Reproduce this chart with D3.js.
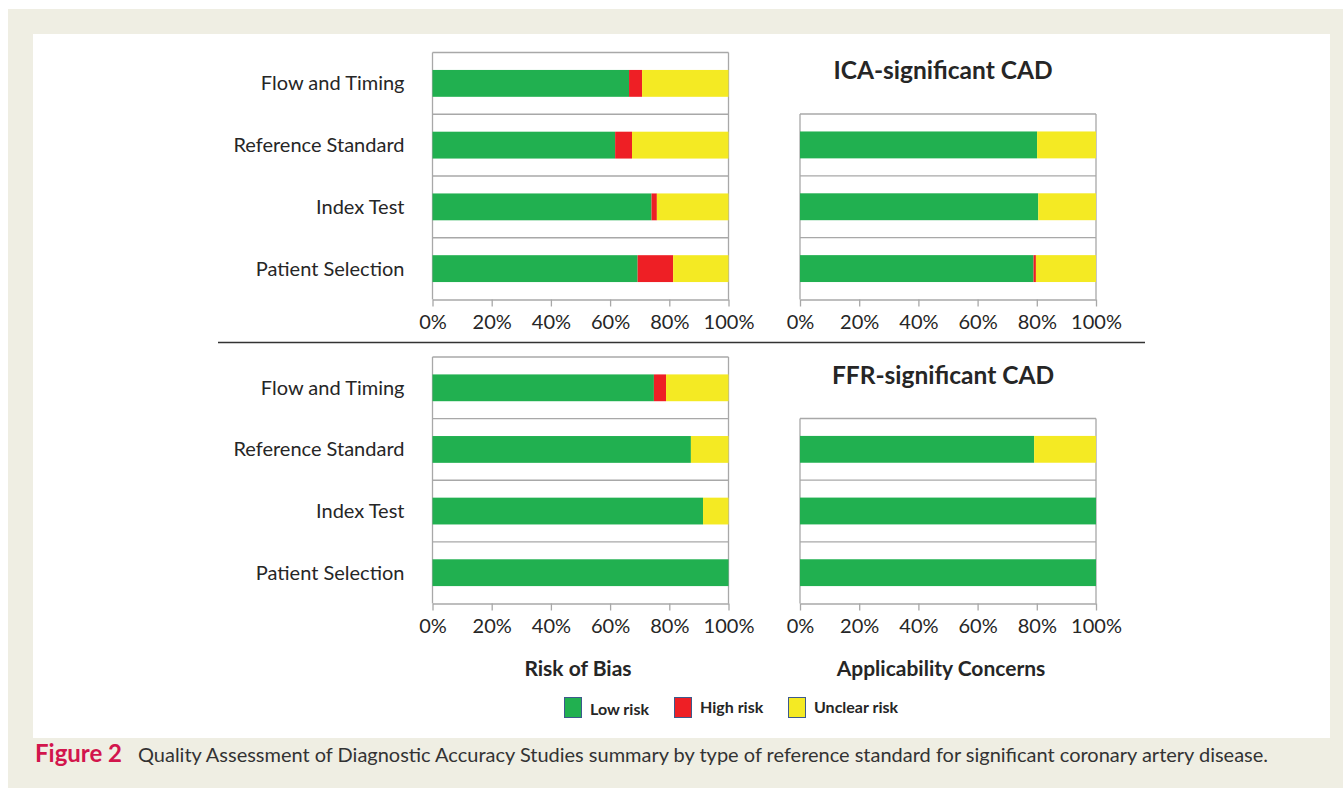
<!DOCTYPE html>
<html>
<head>
<meta charset="utf-8">
<script src="https://cdn.jsdelivr.net/npm/d3@7"></script>
<style>
  body { margin: 0; background: #fff; }
  svg { display: block; }
  text { font-family: Lato, "Open Sans", sans-serif; fill: #262626; }
</style>
</head>
<body>
<div id="root"></div>
<script>
// categories, top to bottom
var domains = ["Flow and Timing", "Reference Standard", "Index Test", "Patient Selection"];
var applicDomains = ["Reference Standard", "Index Test", "Patient Selection"];
var levels = ["low", "high", "unclear"];
var levelNames = ["Low risk", "High risk", "Unclear risk"];
var levelColors = ["#21b050", "#ee1f25", "#f4ea23"];
var ticks = [0, 0.2, 0.4, 0.6, 0.8, 1];

// percent of studies, in domain order
var icaBiasLow     = [66.4, 61.7, 74.0, 69.3];
var icaBiasHigh    = [4.4, 5.7, 1.8, 12.0];
var icaBiasUnclear = [29.2, 32.6, 24.2, 18.7];

var icaApplLow     = [80.1, 80.5, 78.9];
var icaApplHigh    = [0, 0, 0.8];
var icaApplUnclear = [19.9, 19.5, 20.3];

var ffrBiasLow     = [74.8, 87.3, 91.4, 100];
var ffrBiasHigh    = [4.1, 0, 0, 0];
var ffrBiasUnclear = [21.1, 12.7, 8.6, 0];

var ffrApplLow     = [79.1, 100, 100];
var ffrApplHigh    = [0, 0, 0];
var ffrApplUnclear = [20.9, 0, 0];

var W = 1343, H = 788;
var svg = d3.select("#root").append("svg").attr("width", W).attr("height", H);

// figure background
svg.append("rect").attr("x", 8).attr("y", 9).attr("width", W - 8).attr("height", H - 9).attr("fill", "#efeee3");
svg.append("rect").attr("x", 33).attr("y", 34).attr("width", 1297).attr("height", 704).attr("fill", "#fff");

function rows(cats, low, high, unclear) {
  return cats.map(function(c, i) {
    return { cat: c, low: low[i] / 100, high: high[i] / 100, unclear: unclear[i] / 100 };
  });
}

var stack = d3.stack().keys(levels);
var color = d3.scaleOrdinal().domain(levels).range(levelColors);

function panel(opts) {
  var g = svg.append("g");
  var x = d3.scaleLinear().domain([0, 1]).range([opts.x0, opts.x1]);
  var y = d3.scaleBand().domain(opts.cats).range([opts.y0, opts.y1])
    .paddingInner(0.565).paddingOuter(0.2825);
  var step = y.step();

  // frame and category separators
  var lines = d3.range(opts.cats.length).map(function(i) { return opts.y0 + i * step; });
  g.selectAll(".sep").data(lines).join("line")
    .attr("x1", opts.x0).attr("x2", opts.x1)
    .attr("y1", function(d) { return d; }).attr("y2", function(d) { return d; })
    .attr("stroke", "#a8a8a8").attr("stroke-width", 1.3);
  g.append("line").attr("x1", opts.x1).attr("x2", opts.x1).attr("y1", opts.y0).attr("y2", opts.y1)
    .attr("stroke", "#a8a8a8").attr("stroke-width", 1.3);
  g.append("line").attr("x1", opts.x0).attr("x2", opts.x0).attr("y1", opts.y0).attr("y2", opts.y1)
    .attr("stroke", "#a8a8a8").attr("stroke-width", 1.3);

  var series = stack(opts.data);
  g.selectAll(".s").data(series).join("g")
    .attr("fill", function(d) { return color(d.key); })
    .selectAll("rect").data(function(d) { return d; }).join("rect")
    .attr("x", function(d) { return x(d[0]); })
    .attr("width", function(d) { return Math.max(0, x(d[1]) - x(d[0])); })
    .attr("y", function(d) { return y(d.data.cat); })
    .attr("height", y.bandwidth());

  var xAxis = d3.axisBottom(x).tickValues(ticks).tickFormat(d3.format(".0%"))
    .tickSizeInner(7).tickSizeOuter(0).tickPadding(8);
  var ax = g.append("g").attr("transform", "translate(0," + opts.y1 + ")").call(xAxis);
  ax.select(".domain").attr("stroke", "#a8a8a8").attr("stroke-width", 1.3);
  ax.selectAll(".tick line").attr("stroke", "#a8a8a8").attr("stroke-width", 1.3);
  ax.selectAll(".tick text").attr("fill", "#262626")
    .style("font-family", "Lato, sans-serif").style("font-size", "20px");

  if (opts.labels) {
    g.selectAll(".lab").data(opts.cats).join("text")
      .attr("x", opts.x0 - 28)
      .attr("y", function(d) { return y(d) + y.bandwidth() / 2; })
      .attr("dy", "0.35em")
      .attr("text-anchor", "end")
      .style("font-size", "20px")
      .text(function(d) { return d; });
  }
}

var L0 = 432.5, L1 = 728.5, R0 = 800, R1 = 1096;

panel({ cats: domains, data: rows(domains, icaBiasLow, icaBiasHigh, icaBiasUnclear),
  x0: L0, x1: L1, y0: 52.5, y1: 299.5, labels: true });
panel({ cats: applicDomains, data: rows(applicDomains, icaApplLow, icaApplHigh, icaApplUnclear),
  x0: R0, x1: R1, y0: 114, y1: 299.5, labels: false });
panel({ cats: domains, data: rows(domains, ffrBiasLow, ffrBiasHigh, ffrBiasUnclear),
  x0: L0, x1: L1, y0: 357, y1: 603.5, labels: true });
panel({ cats: applicDomains, data: rows(applicDomains, ffrApplLow, ffrApplHigh, ffrApplUnclear),
  x0: R0, x1: R1, y0: 418.5, y1: 603.5, labels: false });

// divider between the two reference standards
svg.append("line").attr("x1", 218).attr("x2", 1145).attr("y1", 342.5).attr("y2", 342.5)
  .attr("stroke", "#333").attr("stroke-width", 1.5);

// panel titles
svg.append("text").attr("x", 943).attr("y", 79).attr("text-anchor", "middle")
  .style("font-size", "24.5px").style("font-weight", "bold").text("ICA-significant CAD");
svg.append("text").attr("x", 943).attr("y", 384).attr("text-anchor", "middle")
  .style("font-size", "24.5px").style("font-weight", "bold").text("FFR-significant CAD");
svg.append("text").attr("x", 578).attr("y", 676).attr("text-anchor", "middle")
  .style("font-size", "21px").style("font-weight", "bold").text("Risk of Bias");
svg.append("text").attr("x", 941).attr("y", 676).attr("text-anchor", "middle")
  .style("font-size", "21px").style("font-weight", "bold").text("Applicability Concerns");

// legend
var legendX = [564, 674, 788];
var lg = svg.selectAll(".leg").data(levels).join("g")
  .attr("transform", function(d, i) { return "translate(" + legendX[i] + ",697)"; });
lg.append("rect").attr("x", 0.5).attr("y", 0.5).attr("width", 17).attr("height", 20)
  .attr("fill", function(d) { return color(d); })
  .attr("stroke", "#3d5a8c").attr("stroke-width", 1);
lg.append("text").attr("x", 26).attr("y", function(d, i) { return i === 0 ? 18 : 16; })
  .style("font-size", "16px").style("font-weight", "bold")
  .text(function(d, i) { return levelNames[i]; });

// caption
svg.append("text").attr("x", 35).attr("y", 762)
  .style("font-size", "24px").style("font-weight", "bold")
  .style("fill", "#d2154c").text("Figure 2");
svg.append("text").attr("x", 138).attr("y", 762)
  .attr("textLength", 1130).attr("lengthAdjust", "spacingAndGlyphs")
  .style("font-size", "20px").style("fill", "#333")
  .text("Quality Assessment of Diagnostic Accuracy Studies summary by type of reference standard for significant coronary artery disease.");
</script>
</body>
</html>
